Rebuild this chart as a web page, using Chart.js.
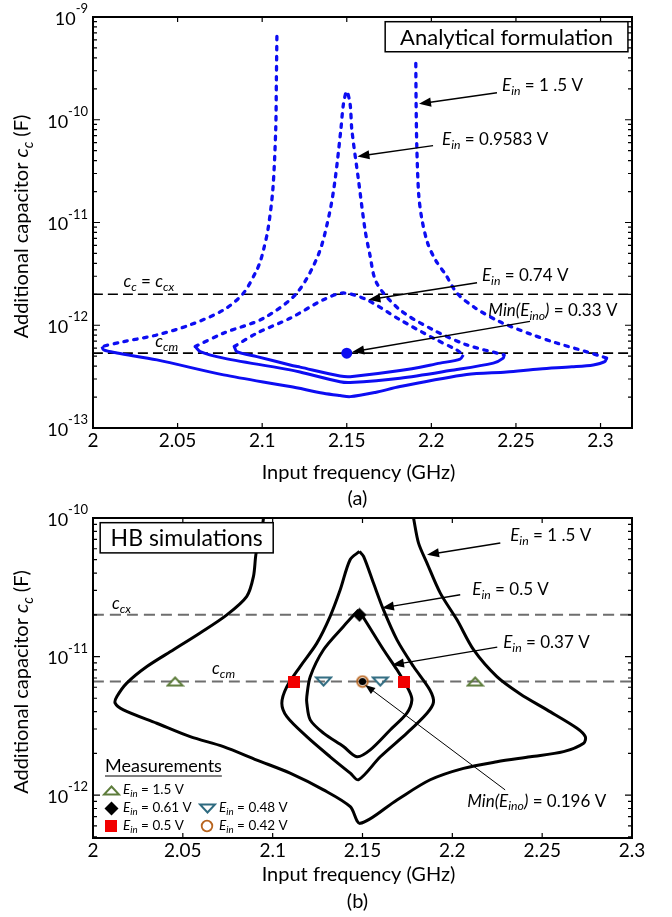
<!DOCTYPE html>
<html lang="en">
<head>
  <meta charset="UTF-8">
  <title>Additional capacitor vs input frequency</title>
  <style>
    body { margin: 0; background: #fff; }
    #boxA { position: absolute; left: 0; top: 0; }
    #boxB { position: absolute; left: 0; top: 480px; }
  </style>
</head>
<body>
  <div id="boxA"><canvas id="chartA" width="672" height="520"></canvas></div>
  <div id="boxB"><canvas id="chartB" width="672" height="437"></canvas></div>

  <script src="https://cdn.jsdelivr.net/npm/chart.js"></script>
  <script>
    // ---------- shared ticks ----------
    const freqTicks = [2, 2.05, 2.1, 2.15, 2.2, 2.25, 2.3];
    const freqTickLabels = ['2', '2.05', '2.1', '2.15', '2.2', '2.25', '2.3'];
    const decadesA = [-13, -12, -11, -10, -9];
    const decadesB = [-12, -11, -10];

    // ---------- (a) analytical formulation ----------
    const ccxA = 2.0e-12;
    const ccmA = 5.35e-13;
    const minEinoA = [[2.15, 5.35e-13]];

    // Ein = 1.5 V
    const ana15LeftDotted = [
      [2.1087, 6.47e-10], [2.1084, 2.51e-10], [2.1080, 8.0e-11], [2.1063, 2.09e-11],
      [2.1034, 8.5e-12], [2.1008, 5.42e-12], [2.0992, 4.34e-12], [2.0969, 3.47e-12],
      [2.0890, 2.06e-12], [2.0772, 1.41e-12], [2.0575, 1.01e-12], [2.0378, 8.05e-13],
      [2.0181, 6.93e-13], [2.0053, 6.21e-13]
    ];
    const ana15Solid = [
      [2.0053, 6.21e-13], [2.0063, 5.75e-13], [2.0142, 5.37e-13], [2.0378, 4.60e-13],
      [2.0772, 3.29e-13], [2.1165, 2.53e-13], [2.1362, 2.18e-13], [2.1460, 2.07e-13],
      [2.1520, 2.02e-13], [2.1668, 2.22e-13], [2.1815, 2.53e-13], [2.2209, 3.31e-13],
      [2.2445, 3.51e-13], [2.2640, 3.76e-13], [2.2830, 3.94e-13], [2.2957, 4.11e-13],
      [2.3025, 4.42e-13], [2.3036, 4.79e-13]
    ];
    const ana15RightDotted = [
      [2.3036, 4.79e-13], [2.3006, 4.97e-13], [2.2919, 5.51e-13], [2.2736, 6.75e-13],
      [2.2583, 8.24e-13], [2.2405, 1.08e-12], [2.2258, 1.48e-12], [2.2152, 2.05e-12],
      [2.2085, 3.10e-12], [2.2025, 4.3e-12], [2.1978, 6.3e-12], [2.1943, 1.1e-11],
      [2.1925, 1.9e-11], [2.1914, 5.5e-11], [2.1910, 1.41e-10], [2.1908, 3.7e-10]
    ];

    // Ein = 0.9583 V
    const ana0958Dotted = [
      [2.0604, 6.21e-13], [2.0772, 8.38e-13], [2.1008, 1.17e-12], [2.1205, 2.06e-12],
      [2.1333, 4.9e-12], [2.1398, 1.23e-11], [2.1431, 2.61e-11], [2.1465, 8.0e-11],
      [2.1480, 1.41e-10], [2.1500, 1.89e-10], [2.1520, 1.41e-10], [2.1530, 8.0e-11],
      [2.1569, 2.61e-11], [2.1608, 8.5e-12], [2.1635, 5.01e-12], [2.1677, 2.57e-12],
      [2.1815, 1.41e-12], [2.2012, 9.0e-13], [2.2209, 6.44e-13], [2.2430, 5.15e-13]
    ];
    const ana0958Solid = [
      [2.0604, 6.21e-13], [2.0634, 5.55e-13], [2.0772, 4.79e-13], [2.1165, 3.68e-13],
      [2.1224, 3.51e-13], [2.1460, 2.82e-13], [2.1520, 2.77e-13], [2.1815, 3.05e-13],
      [2.2110, 3.62e-13], [2.2366, 4.28e-13], [2.2425, 4.79e-13], [2.2430, 5.15e-13]
    ];

    // Ein = 0.74 V
    const ana074Dotted = [
      [2.0835, 6.21e-13], [2.0969, 8.38e-13], [2.1165, 1.17e-12], [2.1362, 1.77e-12],
      [2.1480, 2.06e-12], [2.1618, 1.77e-12], [2.1815, 1.13e-12], [2.2012, 7.48e-13],
      [2.2150, 5.75e-13], [2.2189, 5.15e-13]
    ];
    const ana074Solid = [
      [2.0835, 6.21e-13], [2.0850, 5.55e-13], [2.0969, 4.95e-13], [2.1165, 4.11e-13],
      [2.1224, 3.91e-13], [2.1460, 3.21e-13], [2.1520, 3.16e-13], [2.1815, 3.62e-13],
      [2.2052, 4.28e-13], [2.2170, 4.68e-13], [2.2189, 5.15e-13]
    ];

    // ---------- (b) HB simulations ----------
    const ccxB = 2.0e-11;
    const ccmB = 6.6e-12;

    const hb15 = [
      [2.0949, 1.0e-10], [2.0936, 7.57e-11], [2.0908, 5.58e-11], [2.0893, 3.78e-11],
      [2.0856, 2.72e-11], [2.0745, 2.0e-11], [2.0596, 1.48e-11], [2.0448, 1.12e-11],
      [2.0300, 8.47e-12], [2.0188, 6.43e-12], [2.0133, 5.14e-12], [2.0123, 4.62e-12],
      [2.0169, 4.12e-12], [2.0355, 3.30e-12], [2.0541, 2.64e-12], [2.0726, 2.24e-12],
      [2.0912, 1.79e-12], [2.1097, 1.44e-12], [2.1283, 1.09e-12], [2.1432, 8.24e-13],
      [2.1487, 6.25e-13], [2.1692, 9.23e-13], [2.1877, 1.29e-12], [2.2062, 1.56e-12],
      [2.2248, 1.74e-12], [2.2434, 1.89e-12], [2.2619, 2.06e-12], [2.2731, 2.37e-12],
      [2.2740, 2.64e-12], [2.2694, 3.04e-12], [2.2527, 4.12e-12], [2.2378, 5.37e-12],
      [2.2248, 7.16e-12], [2.2118, 1.12e-11], [2.2026, 1.84e-11], [2.1933, 2.87e-11],
      [2.1859, 4.73e-11], [2.1812, 6.59e-11], [2.1784, 1.0e-10]
    ];
    const hb05 = [
      [2.1483, 5.74e-11], [2.1431, 5.0e-11], [2.1376, 3.03e-11], [2.1320, 1.95e-11],
      [2.1246, 1.25e-11], [2.1153, 8.47e-12], [2.1079, 6.07e-12], [2.1051, 4.60e-12],
      [2.1079, 3.68e-12], [2.1190, 2.64e-12], [2.1320, 1.89e-12], [2.1432, 1.44e-12],
      [2.1478, 1.29e-12], [2.1599, 1.89e-12], [2.1747, 2.80e-12], [2.1859, 3.90e-12],
      [2.1895, 4.68e-12], [2.1875, 5.74e-12], [2.1784, 8.47e-12], [2.1692, 1.32e-11],
      [2.1617, 2.17e-11], [2.1561, 3.39e-11], [2.1506, 5.28e-11], [2.1483, 5.74e-11]
    ];
    const hb037 = [
      [2.1478, 2.17e-11], [2.1394, 1.65e-11], [2.1283, 1.12e-11], [2.1209, 7.16e-12],
      [2.1190, 5.14e-12], [2.1190, 4.62e-12], [2.1209, 3.49e-12], [2.1283, 2.80e-12],
      [2.1394, 2.24e-12], [2.1469, 1.89e-12], [2.1543, 2.12e-12], [2.1654, 2.95e-12],
      [2.1747, 3.90e-12], [2.1775, 4.86e-12], [2.1757, 5.74e-12], [2.1692, 8.02e-12],
      [2.1617, 1.12e-11], [2.1525, 1.74e-11], [2.1478, 2.17e-11]
    ];

    // measurements
    const meas15 = [[2.0457, 6.6e-12], [2.2127, 6.6e-12]];
    const meas061 = [[2.1483, 2.0e-11]];
    const meas05 = [[2.1116, 6.6e-12], [2.1732, 6.6e-12]];
    const meas048 = [[2.1283, 6.6e-12], [2.1599, 6.6e-12]];
    const meas042 = [[2.15, 6.6e-12]];
    const minEinoB = [[2.15, 6.6e-12]];

    // ---------- helpers ----------
    const FONT = 'Lato, "Liberation Sans", sans-serif';
    const BLUE = '#0d0df2';
    const pts = arr => arr.map(([x, y]) => ({ x, y }));
    const ein = v => [['E', 'i'], ['in', 's'], [' = ' + v + ' V', 'n']];

    function setFont(ctx, size, italic) {
      ctx.font = (italic ? 'italic ' : '') + size + 'px ' + FONT;
    }

    // parts: [text, style]  n = normal, i = italic, s = italic subscript
    function drawRich(ctx, parts, x, y, size, align) {
      let w = 0;
      for (const [t, s] of parts) {
        setFont(ctx, s === 's' ? size * 0.72 : size, s !== 'n');
        w += ctx.measureText(t).width;
      }
      let cx = align === 'center' ? x - w / 2 : (align === 'right' ? x - w : x);
      ctx.textAlign = 'left';
      ctx.textBaseline = 'middle';
      for (const [t, s] of parts) {
        const sub = s === 's';
        setFont(ctx, sub ? size * 0.72 : size, s !== 'n');
        ctx.fillText(t, cx, y + (sub ? size * 0.3 : 0));
        cx += ctx.measureText(t).width;
      }
    }

    function drawArrow(ctx, x1, y1, x2, y2, lw, head) {
      const ang = Math.atan2(y2 - y1, x2 - x1);
      const hl = head || 12, hw = hl * 0.38;
      ctx.lineWidth = lw;
      ctx.beginPath();
      ctx.moveTo(x1, y1);
      ctx.lineTo(x2 - Math.cos(ang) * hl * 0.8, y2 - Math.sin(ang) * hl * 0.8);
      ctx.stroke();
      ctx.beginPath();
      ctx.moveTo(x2, y2);
      ctx.lineTo(x2 - Math.cos(ang) * hl - Math.sin(ang) * hw, y2 - Math.sin(ang) * hl + Math.cos(ang) * hw);
      ctx.lineTo(x2 - Math.cos(ang) * hl + Math.sin(ang) * hw, y2 - Math.sin(ang) * hl - Math.cos(ang) * hw);
      ctx.closePath();
      ctx.fill();
    }

    function marker(w, h, draw) {
      const c = document.createElement('canvas');
      c.width = w; c.height = h;
      draw(c.getContext('2d'));
      return c;
    }
    const mkTriUp = marker(19, 11, g => {
      g.strokeStyle = '#5e7d3c'; g.lineWidth = 2;
      g.beginPath(); g.moveTo(9.5, 1.5); g.lineTo(17, 9.5); g.lineTo(2, 9.5); g.closePath(); g.stroke();
    });
    const mkTriDown = marker(19, 11, g => {
      g.strokeStyle = '#2f6b80'; g.lineWidth = 2;
      g.beginPath(); g.moveTo(2, 1.5); g.lineTo(17, 1.5); g.lineTo(9.5, 9.5); g.closePath(); g.stroke();
    });
    const mkDiamond = marker(15, 15, g => {
      g.fillStyle = '#000';
      g.beginPath(); g.moveTo(7.5, 0.5); g.lineTo(14.5, 7.5); g.lineTo(7.5, 14.5); g.lineTo(0.5, 7.5); g.closePath(); g.fill();
    });
    const mkSquare = marker(12, 12, g => { g.fillStyle = '#f20000'; g.fillRect(0, 0, 12, 12); });
    const mkCircle = marker(14, 14, g => {
      g.strokeStyle = '#b8641e'; g.lineWidth = 1.8;
      g.beginPath(); g.arc(7, 7, 5.3, 0, Math.PI * 2); g.stroke();
    });
    const mkDot = marker(9, 9, g => {
      g.fillStyle = '#000'; g.beginPath(); g.arc(4.5, 4.5, 3.6, 0, Math.PI * 2); g.fill();
    });

    // ---------- annotations (data coordinates) ----------
    const notesA = [
      { parts: ein('1 .5'), at: [2.2418, 2.14e-10], size: 17 },
      { parts: ein('0.9583'), at: [2.2063, 6.4e-11], size: 17 },
      { parts: ein('0.74'), at: [2.2299, 3.03e-12], size: 17 },
      { parts: [['Min(E', 'i'], ['ino', 's'], [')', 'i'], [' = 0.33 V', 'n']], at: [2.2337, 1.38e-12], size: 17 },
      { parts: [['c', 'i'], ['c', 's'], [' = ', 'n'], ['c', 'i'], ['cx', 's']], at: [2.018, 2.65e-12], size: 17 },
      { parts: [['c', 'i'], ['cm', 's']], at: [2.0368, 6.9e-13], size: 17 }
    ];
    const arrowsA = [
      { from: [2.2388, 1.83e-10], to: [2.1927, 1.43e-10], w: 1.4 },
      { from: [2.2010, 5.6e-11], to: [2.1563, 4.4e-11], w: 1.4 },
      { from: [2.2270, 2.59e-12], to: [2.1628, 1.77e-12], w: 1.4 },
      { from: [2.2583, 1.09e-12], to: [2.1532, 5.5e-13], w: 1.4 }
    ];
    const notesB = [
      { parts: ein('1 .5'), at: [2.2322, 7.45e-11], size: 17 },
      { parts: ein('0.5'), at: [2.2111, 3.03e-11], size: 17 },
      { parts: ein('0.37'), at: [2.2283, 1.26e-11], size: 17 },
      { parts: [['Min(E', 'i'], ['ino', 's'], [')', 'i'], [' = 0.196 V', 'n']], at: [2.2083, 9.06e-13], size: 17 },
      { parts: [['c', 'i'], ['cx', 's']], at: [2.0106, 2.4e-11], size: 17 },
      { parts: [['c', 'i'], ['cm', 's']], at: [2.0663, 8.15e-12], size: 17 }
    ];
    const arrowsB = [
      { from: [2.2267, 6.6e-11], to: [2.1859, 5.43e-11], w: 1.4 },
      { from: [2.2044, 2.79e-11], to: [2.1608, 2.24e-11], w: 1.4 },
      { from: [2.2250, 1.17e-11], to: [2.1664, 8.7e-12], w: 1.4 },
      { from: [2.2294, 1.09e-12], to: [2.1515, 6.24e-12], w: 1, head: 10 }
    ];
    const legendB = [
      { img: mkTriUp, parts: ein('1.5'), col: 0, row: 0 },
      { img: mkDiamond, parts: ein('0.61'), col: 0, row: 1 },
      { img: mkTriDown, parts: ein('0.48'), col: 1, row: 1 },
      { img: mkSquare, parts: ein('0.5'), col: 0, row: 2 },
      { img: mkCircle, parts: ein('0.42'), col: 1, row: 2 }
    ];

    // ---------- frame, ticks, labels, notes ----------
    const decor = {
      id: 'decor',
      afterDatasetsDraw(chart, args, o) {
        const ctx = chart.ctx, a = chart.chartArea;
        const xs = chart.scales.x, ys = chart.scales.y;
        const px = v => xs.getPixelForValue(v), py = v => ys.getPixelForValue(v);
        ctx.save();
        ctx.fillStyle = '#000';
        ctx.strokeStyle = '#000';

        for (const ar of o.arrows) {
          drawArrow(ctx, px(ar.from[0]), py(ar.from[1]), px(ar.to[0]), py(ar.to[1]), ar.w, ar.head);
        }
        for (const n of o.notes) drawRich(ctx, n.parts, px(n.at[0]), py(n.at[1]), n.size, 'left');

        // title box
        const b = o.box;
        const bx0 = px(b.x0), bx1 = px(b.x1), by0 = py(b.y0), by1 = py(b.y1);
        ctx.fillStyle = '#fff';
        ctx.fillRect(bx0, by0, bx1 - bx0, by1 - by0);
        ctx.lineWidth = 1.5;
        ctx.strokeRect(bx0, by0, bx1 - bx0, by1 - by0);
        ctx.fillStyle = '#000';
        ctx.font = b.size + 'px ' + FONT;
        ctx.textAlign = 'center';
        ctx.textBaseline = 'middle';
        ctx.fillText(b.text, (bx0 + bx1) / 2, (by0 + by1) / 2 + 1);

        // measurement legend
        if (o.legend) {
          const lx = a.left + 12, ly = a.bottom - 72;
          ctx.font = '18px ' + FONT;
          ctx.textAlign = 'left';
          ctx.fillText('Measurements', lx, ly);
          const lw = ctx.measureText('Measurements').width;
          ctx.lineWidth = 1;
          ctx.beginPath(); ctx.moveTo(lx, ly + 10); ctx.lineTo(lx + lw, ly + 10); ctx.stroke();
          for (const e of o.legend) {
            const mx = a.left + 18 + e.col * 96, my = a.bottom - 48 + e.row * 18;
            ctx.drawImage(e.img, Math.round(mx - e.img.width / 2), Math.round(my - e.img.height / 2));
            drawRich(ctx, e.parts, mx + 12, my, 13.5, 'left');
          }
        }

        // frame
        ctx.lineWidth = 2;
        ctx.strokeRect(a.left, a.top, a.right - a.left, a.bottom - a.top);
        ctx.lineWidth = 1.2;
        ctx.beginPath();
        for (const v of o.xTicks) {
          const x = px(v);
          ctx.moveTo(x, a.bottom); ctx.lineTo(x, a.bottom - 5);
          ctx.moveTo(x, a.top); ctx.lineTo(x, a.top + 5);
        }
        for (const d of o.decades.concat([o.decades[0] - 1])) {
          for (let m = 1; m <= 9; m++) {
            const v = m * Math.pow(10, d);
            if (v < ys.min * 0.999 || v > ys.max * 1.001) continue;
            const y = py(v), len = m === 1 ? 7 : 4;
            ctx.moveTo(a.left, y); ctx.lineTo(a.left + len, y);
            ctx.moveTo(a.right, y); ctx.lineTo(a.right - len, y);
          }
        }
        ctx.stroke();

        // tick labels
        ctx.fillStyle = '#000';
        ctx.textBaseline = 'middle';
        ctx.textAlign = 'center';
        ctx.font = '19px ' + FONT;
        o.xTicks.forEach((v, i) => ctx.fillText(o.xLabels[i], px(v), a.bottom + 13));
        for (const d of o.decades) {
          const y = py(Math.pow(10, d));
          const ex = String(d);
          ctx.font = '13px ' + FONT;
          const we = ctx.measureText(ex).width;
          ctx.textAlign = 'left';
          ctx.fillText(ex, a.left - 5 - we, y - 8);
          ctx.font = '18px ' + FONT;
          const wt = ctx.measureText('10').width;
          ctx.fillText('10', a.left - 5 - we - wt, y + 2);
        }

        // axis titles and caption
        const cx = (a.left + a.right) / 2;
        ctx.textAlign = 'center';
        ctx.font = '20px ' + FONT;
        ctx.fillText('Input frequency (GHz)', cx - 4, a.bottom + o.xTitleDy);
        ctx.fillText(o.caption, cx - 5, a.bottom + o.capDy);
        ctx.translate(22, (a.top + a.bottom) / 2 + 4);
        ctx.rotate(-Math.PI / 2);
        drawRich(ctx, [['Additional capacitor ', 'n'], ['c', 'i'], ['c', 's'], [' (F)', 'n']], 0, 0, 20, 'center');
        ctx.restore();
      }
    };

    const lineDs = (data, color, width, dash, cap) => ({
      data: pts(data), showLine: true, borderColor: color, borderWidth: width,
      borderDash: dash || [], borderCapStyle: cap || 'butt', pointRadius: 0, tension: 0.3, fill: false
    });
    const markDs = (data, img) => ({
      data: pts(data), showLine: false, pointStyle: img, pointRadius: 6
    });
    const hLine = (level, x0, x1, color, width, dash) => lineDs([[x0, level], [x1, level]], color, width, dash);

    const baseOptions = (xMax, yMin, yMax, pad, deco) => ({
      responsive: false,
      animation: false,
      events: [],
      layout: { padding: pad },
      plugins: { legend: { display: false }, tooltip: { enabled: false }, decor: deco },
      scales: {
        x: { type: 'linear', min: 2, max: xMax, display: false },
        y: { type: 'logarithmic', min: yMin, max: yMax, display: false }
      }
    });

    // ---------- chart (a) ----------
    const dotted = [3.5, 6.5];
    new Chart(document.getElementById('chartA'), {
      type: 'scatter',
      data: {
        datasets: [
          { data: pts(minEinoA), pointRadius: 5.5, pointBackgroundColor: BLUE, pointBorderWidth: 0, showLine: false },
          lineDs(ana15LeftDotted, BLUE, 3.3, dotted, 'round'),
          lineDs(ana15Solid, BLUE, 3),
          lineDs(ana15RightDotted, BLUE, 3.3, dotted, 'round'),
          lineDs(ana0958Dotted, BLUE, 3.3, dotted, 'round'),
          lineDs(ana0958Solid, BLUE, 3),
          lineDs(ana074Dotted, BLUE, 3.3, dotted, 'round'),
          lineDs(ana074Solid, BLUE, 3),
          hLine(ccxA, 2, 2.3186, '#000', 1.6, [10, 5]),
          hLine(ccmA, 2, 2.3186, '#000', 1.6, [10, 5])
        ]
      },
      options: baseOptions(2.3186, 1e-13, 1e-9,
        { left: 93, right: 40, top: 17, bottom: 92 },
        {
          xTicks: freqTicks, xLabels: freqTickLabels, decades: decadesA,
          xTitleDy: 45, capDy: 71, caption: '(a)',
          notes: notesA, arrows: arrowsA,
          box: { x0: 2.1727, x1: 2.3162, y0: 9.0e-10, y1: 4.59e-10, text: 'Analytical formulation', size: 22 }
        }),
      plugins: [decor]
    });

    // ---------- chart (b) ----------
    new Chart(document.getElementById('chartB'), {
      type: 'scatter',
      data: {
        datasets: [
          markDs(minEinoB, mkDot),
          markDs(meas042, mkCircle),
          markDs(meas061, mkDiamond),
          markDs(meas05, mkSquare),
          markDs(meas048, mkTriDown),
          markDs(meas15, mkTriUp),
          lineDs(hb15, '#000', 3),
          lineDs(hb05, '#000', 3),
          lineDs(hb037, '#000', 3),
          hLine(ccxB, 2, 2.3, '#6e6e6e', 2, [11, 6]),
          hLine(ccmB, 2, 2.3, '#6e6e6e', 2, [11, 6])
        ]
      },
      options: baseOptions(2.3, 4.9e-13, 1e-10,
        { left: 93, right: 40, top: 38, bottom: 79 },
        {
          xTicks: freqTicks, xLabels: freqTickLabels, decades: decadesB,
          xTitleDy: 37, capDy: 64, caption: '(b)',
          notes: notesB, arrows: arrowsB, legend: legendB,
          box: { x0: 2.004, x1: 2.1003, y0: 9.25e-11, y1: 5.6e-11, text: 'HB simulations', size: 23 }
        }),
      plugins: [decor]
    });
  </script>
</body>
</html>
